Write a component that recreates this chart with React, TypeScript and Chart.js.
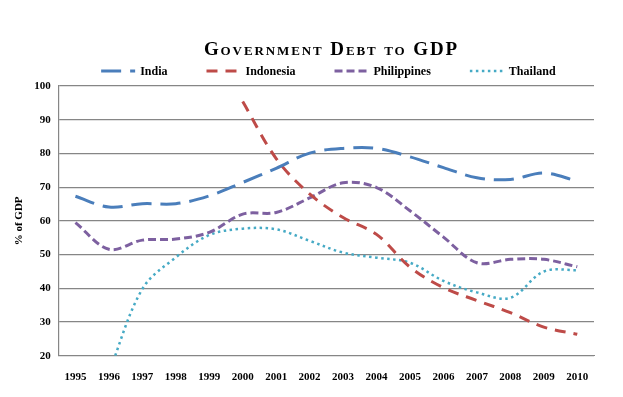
import React, { useEffect, useRef } from "react";
import { Chart, registerables } from "chart.js";

Chart.register(...registerables);

const years = ["1995", "1996", "1997", "1998", "1999", "2000", "2001", "2002", "2003", "2004", "2005", "2006", "2007", "2008", "2009", "2010"];
const india = [67.3, 64.1, 65.1, 65.1, 67.4, 71.4, 75.6, 80.1, 81.5, 81.5, 79.0, 75.8, 72.8, 72.3, 74.2, 71.8];
const indonesia = [null, null, null, null, null, 95.4, 78.5, 68.0, 61.0, 56.0, 46.3, 40.2, 36.4, 32.8, 28.5, 26.4];
const philippines = [59.5, 51.6, 54.3, 54.6, 56.6, 62.0, 62.5, 66.8, 71.3, 69.9, 63.0, 55.2, 47.6, 48.6, 48.6, 46.4];
const thailand = [null, 15.0, 39.8, 49.2, 55.8, 57.7, 57.5, 54.1, 50.6, 49.1, 47.6, 42.2, 38.8, 37.2, 45.0, 45.4];
const yMin = 20;
const yMax = 100;
const yStep = 10;

const serif = "'Liberation Serif', 'DejaVu Serif', serif";

const legendPlugin = {
  id: "excelLegend",
  afterDraw(chart: any) {
    const ctx = chart.ctx as CanvasRenderingContext2D;
    const sample = 34;
    const gapText = 5;
    const gapItem = 39;
    ctx.save();
    ctx.font = `bold 12px ${serif}`;
    const items = chart.data.datasets.map((ds: any) => ({
      ds,
      w: sample + gapText + ctx.measureText(ds.label).width,
    }));
    const total = items.reduce((s: number, it: any) => s + it.w, 0) + gapItem * (items.length - 1);
    const cx = (chart.chartArea.left + chart.chartArea.right) / 2 + 2;
    let x = cx - total / 2;
    const y = 63;
    for (const it of items) {
      ctx.strokeStyle = it.ds.borderColor;
      ctx.lineWidth = it.ds.borderWidth;
      ctx.setLineDash(it.ds.borderDash || []);
      ctx.beginPath();
      ctx.moveTo(x, y);
      ctx.lineTo(x + sample, y);
      ctx.stroke();
      ctx.setLineDash([]);
      ctx.fillStyle = "#000";
      ctx.textBaseline = "middle";
      ctx.textAlign = "left";
      ctx.fillText(it.ds.label, x + sample + gapText, y + 1);
      x += it.w + gapItem;
    }
    ctx.restore();
  },
};

export default function App() {
  const ref = useRef<HTMLCanvasElement | null>(null);

  useEffect(() => {
    if (!ref.current) return;
    const chart = new Chart(ref.current, {
      type: "line",
      data: {
        labels: years,
        datasets: [
          { label: "India", data: india, borderColor: "#4A7EBB", backgroundColor: "#4A7EBB", borderWidth: 3, borderDash: [20, 9], pointRadius: 0, tension: 0.35, fill: false },
          { label: "Indonesia", data: indonesia, borderColor: "#BE4B48", backgroundColor: "#BE4B48", borderWidth: 3, borderDash: [11, 8], pointRadius: 0, tension: 0.35, fill: false },
          { label: "Philippines", data: philippines, borderColor: "#7D60A0", backgroundColor: "#7D60A0", borderWidth: 3, borderDash: [8, 4], pointRadius: 0, tension: 0.35, fill: false },
          { label: "Thailand", data: thailand, borderColor: "#46AAC5", backgroundColor: "#46AAC5", borderWidth: 2.5, borderDash: [2.5, 3.5], pointRadius: 0, tension: 0.35, fill: false },
        ],
      },
      options: {
        animation: false,
        responsive: false,
        layout: { padding: { top: 78, left: 5, right: 21, bottom: -10 } },
        plugins: {
          tooltip: { enabled: false },
          title: { display: false },
          legend: { display: false },
        },
        scales: {
          x: {
            offset: true,
            grid: { display: false, drawTicks: false },
            border: { display: true, color: "#868686", width: 1 },
            ticks: { color: "#000", font: { family: serif, size: 11, weight: "bold" }, padding: 15, maxRotation: 0, autoSkip: false },
          },
          y: {
            min: yMin,
            max: yMax,
            grid: { color: "#868686", lineWidth: 1.2, drawTicks: false },
            border: { display: true, color: "#868686", width: 1.2 },
            ticks: { stepSize: yStep, color: "#000", font: { family: serif, size: 11, weight: "bold" }, padding: 8 },
            title: { display: true, text: "% of GDP", color: "#000", font: { family: serif, size: 11, weight: "bold" }, padding: { top: 0, bottom: 0 } },
          },
        },
      },
      plugins: [legendPlugin],
    });
    return () => chart.destroy();
  }, []);

  return (
    <div style={{ position: "relative", width: 607, height: 381 }}>
      <div
        style={{
          position: "absolute",
          top: 31,
          left: 40,
          width: 567,
          textAlign: "center",
          fontFamily: serif,
          fontWeight: "bold",
          fontSize: 19,
          letterSpacing: "1.9px",
          lineHeight: "20px",
          fontVariant: "small-caps",
          color: "#000",
        }}
      >
        Government Debt to GDP
      </div>
      <canvas ref={ref} width={607} height={381} style={{ display: "block", width: 607, height: 381 }} />
    </div>
  );
}
